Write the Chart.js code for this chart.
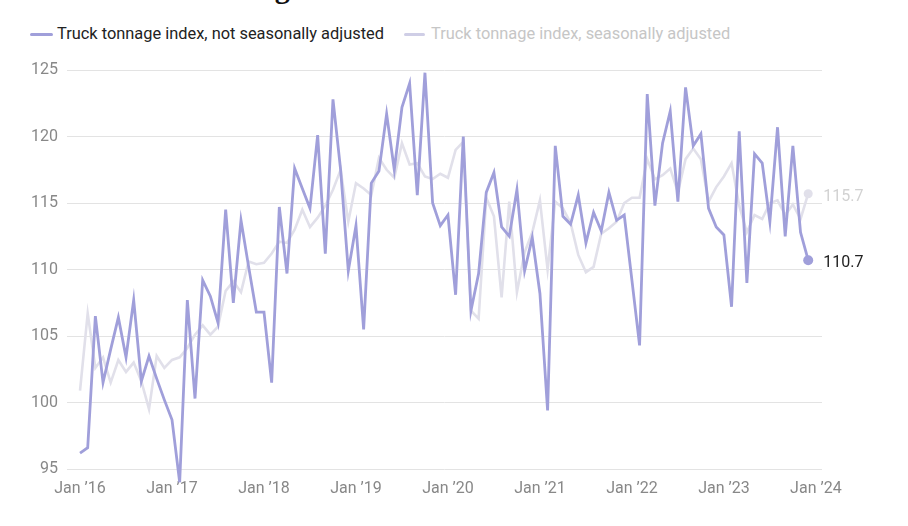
<!DOCTYPE html>
<html>
<head>
<meta charset="utf-8">
<script src="https://cdn.jsdelivr.net/npm/chart.js@4.4.1/dist/chart.umd.min.js"></script>
<style>
  html, body { margin: 0; padding: 0; background: #ffffff; }
  body { width: 908px; height: 526px; position: relative; overflow: hidden; font-family: Roboto, "Noto Sans", sans-serif; }
  #wrap { position: absolute; left: 0; top: 0; width: 908px; height: 526px; }
  #wrap canvas { display: block; }
  #title { position: absolute; left: 0; width: 303px; top: -27px; text-align: right; font: bold 30px/30px "Liberation Serif", serif; color: #111; white-space: nowrap; }
  .leg { position: absolute; top: 24px; height: 20px; font-size: 16.4px; line-height: 20px; white-space: nowrap; }
  .leg .sw { position: absolute; top: 9px; height: 3px; border-radius: 2px; }
</style>
</head>
<body>
<div id="title">Truck tonnage</div>
<div class="leg" style="left:30px;"><span class="sw" style="left:0;width:23px;background:#a09fda;"></span><span style="margin-left:27px;color:#222;">Truck tonnage index, not seasonally adjusted</span></div>
<div class="leg" style="left:404px;"><span class="sw" style="left:0;width:21px;background:#cfcee6;"></span><span style="margin-left:27px;color:#c6c6c6;">Truck tonnage index, seasonally adjusted</span></div>
<div id="wrap"><canvas id="c" width="908" height="526"></canvas></div>
<script>
// Monthly index values, Jan 2016 – Dec 2023
const notSeasonallyAdjusted = [
  96.2, 96.6, 106.5, 101.5, 104.0, 106.4, 103.4, 107.7, 101.6, 103.5, 101.8, 100.2,
  98.7, 94.0, 107.7, 100.3, 109.2, 108.0, 106.0, 114.5, 107.5, 113.7, 110.2, 106.8,
  106.8, 101.5, 114.7, 109.7, 117.6, 116.1, 114.6, 120.1, 111.2, 122.8, 117.5, 109.9,
  113.3, 105.5, 116.5, 117.4, 121.7, 117.5, 122.2, 124.0, 115.6, 124.8, 115.0, 113.3,
  114.1, 108.1, 120.0, 106.9, 109.7, 115.8, 117.3, 113.2, 112.5, 116.0, 109.9, 112.4,
  108.2, 99.4, 119.3, 114.0, 113.4, 115.6, 112.0, 114.3, 112.9, 115.8, 113.7, 114.1,
  109.2, 104.3, 123.2, 114.8, 119.5, 121.9, 115.1, 123.7, 119.3, 120.2, 114.6, 113.2,
  112.6, 107.2, 120.4, 109.0, 118.7, 118.0, 113.6, 120.7, 112.5, 119.3, 112.8, 110.7
];
const seasonallyAdjusted = [
  100.9, 106.7, 102.6, 103.4, 101.5, 103.2, 102.3, 103.0, 101.6, 99.5, 103.5, 102.6,
  103.2, 103.4, 104.1, 105.1, 105.8, 105.1, 105.7, 108.4, 109.1, 108.3, 110.6, 110.4,
  110.5, 111.2, 112.1, 112.0, 113.0, 114.5, 113.2, 113.9, 114.8, 116.0, 117.5, 113.6,
  116.5, 116.1, 115.6, 118.4, 117.5, 116.9, 119.5, 117.9, 118.0, 117.0, 116.8, 117.2,
  116.9, 119.0, 119.6, 106.9, 106.3, 115.4, 114.0, 107.9, 115.1, 108.3, 111.3, 112.8,
  115.2, 110.0, 115.1, 114.6, 113.5, 111.1, 109.8, 110.2, 112.7, 113.1, 113.6, 115.0,
  115.4, 115.4, 118.3, 116.8, 117.1, 117.6, 115.8, 118.3, 119.1, 118.3, 115.1, 116.2,
  117.0, 118.0, 114.8, 112.8, 114.1, 113.8, 115.0, 115.2, 114.1, 114.9, 113.8, 115.7
];
const xTickLabels = ["Jan \u201916", "Jan \u201917", "Jan \u201918", "Jan \u201919", "Jan \u201920", "Jan \u201921", "Jan \u201922", "Jan \u201923", "Jan \u201924"];
const yTickValues = [95, 100, 105, 110, 115, 120, 125];

const toPoints = arr => arr.map((v, i) => ({ x: i, y: v }));
const lastIdx = notSeasonallyAdjusted.length - 1;

const endLabels = {
  id: 'endLabels',
  afterDatasetsDraw(chart) {
    const ctx = chart.ctx;
    ctx.save();
    ctx.font = '16px Roboto, "Noto Sans", sans-serif';
    ctx.textBaseline = 'middle';
    ctx.textAlign = 'left';
    chart.data.datasets.forEach((ds, di) => {
      const meta = chart.getDatasetMeta(di);
      const pt = meta.data[meta.data.length - 1];
      const val = ds.data[ds.data.length - 1].y;
      ctx.fillStyle = ds.endLabelColor;
      ctx.fillText(val.toFixed(1), pt.x + 15, pt.y + 3);
    });
    ctx.restore();
  }
};

new Chart(document.getElementById('c'), {
  type: 'line',
  data: {
    datasets: [
      {
        label: 'Truck tonnage index, not seasonally adjusted',
        data: toPoints(notSeasonallyAdjusted),
        borderColor: '#a09fda',
        backgroundColor: '#a09fda',
        borderWidth: 2.8,
        tension: 0,
        clip: false,
        pointRadius: c => c.dataIndex === lastIdx ? 5 : 0,
        pointHoverRadius: 0,
        pointBorderWidth: 0,
        endLabelColor: '#222222'
      },
      {
        label: 'Truck tonnage index, seasonally adjusted',
        data: toPoints(seasonallyAdjusted),
        borderColor: '#e1e0ea',
        backgroundColor: '#e1e0ea',
        borderWidth: 2.6,
        tension: 0,
        clip: false,
        pointRadius: c => c.dataIndex === lastIdx ? 4.5 : 0,
        pointHoverRadius: 0,
        pointBorderWidth: 0,
        endLabelColor: '#d2d2d2'
      }
    ]
  },
  options: {
    responsive: false,
    animation: false,
    layout: { padding: { left: 0, right: 86, top: 63, bottom: 0 } },
    plugins: { legend: { display: false }, tooltip: { enabled: false }, title: { display: false } },
    scales: {
      x: {
        type: 'linear',
        min: -1.7,
        max: 96.8,
        grid: { display: false, drawTicks: false },
        border: { display: false },
        afterBuildTicks: s => { s.ticks = xTickLabels.map((_, i) => ({ value: i * 12 })); },
        afterFit: s => { s.height = 51; },
        ticks: {
          padding: 4,
          autoSkip: false,
          maxRotation: 0,
          color: '#888888',
          font: { family: 'Roboto', size: 16 },
          callback: v => xTickLabels[Math.round(v / 12)]
        }
      },
      y: {
        min: 94.55,
        max: 125.53,
        grid: { color: '#e3e3e3', lineWidth: 1, drawTicks: false },
        border: { display: false },
        afterBuildTicks: s => { s.ticks = yTickValues.map(v => ({ value: v })); },
        afterFit: s => { s.width = 67; },
        ticks: {
          padding: 9,
          color: '#888888',
          font: { family: 'Roboto', size: 16 },
          callback: v => String(v)
        }
      }
    }
  },
  plugins: [endLabels]
});
</script>
</body>
</html>
